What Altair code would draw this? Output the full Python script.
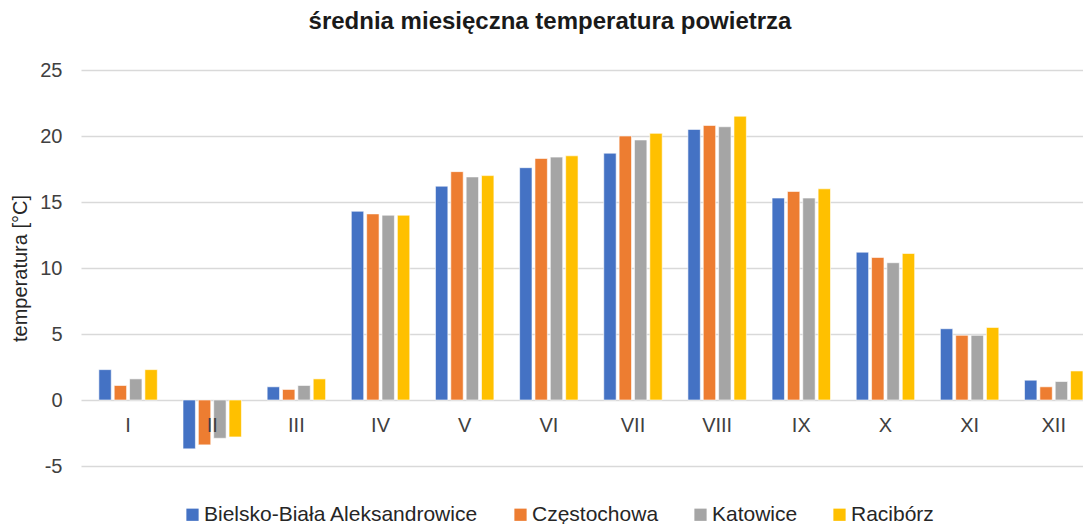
import altair as alt
import pandas as pd

months = ["I", "II", "III", "IV", "V", "VI", "VII", "VIII", "IX", "X", "XI", "XII"]
stations = ["Bielsko-Biała Aleksandrowice", "Częstochowa", "Katowice", "Racibórz"]
bielsko = [2.3, -3.7, 1.0, 14.3, 16.2, 17.6, 18.7, 20.5, 15.3, 11.2, 5.4, 1.5]
czestochowa = [1.1, -3.4, 0.8, 14.1, 17.3, 18.3, 20.0, 20.8, 15.8, 10.8, 4.9, 1.0]
katowice = [1.6, -2.9, 1.1, 14.0, 16.9, 18.4, 19.7, 20.7, 15.3, 10.4, 4.9, 1.4]
raciborz = [2.3, -2.8, 1.6, 14.0, 17.0, 18.5, 20.2, 21.5, 16.0, 11.1, 5.5, 2.2]
colors = ["#4472C4", "#ED7D31", "#A5A5A5", "#FFC000"]
y_ticks = [-5, 0, 5, 10, 15, 20, 25]

series = [bielsko, czestochowa, katowice, raciborz]
rows = []
for si, (name, vals) in enumerate(zip(stations, series)):
    for mi, (m, v) in enumerate(zip(months, vals)):
        rows.append({"month": m, "mi": mi + 1, "station": name, "si": si, "value": v})
df = pd.DataFrame(rows)
mdf = pd.DataFrame({"month": months, "mi": list(range(1, len(months) + 1))})

FONT = "Liberation Sans"
PLOT_W = 1002
PLOT_H = 396
x_scale = alt.Scale(domain=[0.5, 0.5 + PLOT_W / 85.0], nice=False, zero=False)
y_scale = alt.Scale(domain=[-5, 25], nice=False)

bars = alt.Chart(df).transform_calculate(
    xpos="datum.mi + (datum.si - 1.5) * 0.1824"
).mark_bar(size=12.4, clip=True, orient="vertical", stroke="white", strokeWidth=0.6).encode(
    x=alt.X("xpos:Q", scale=x_scale, axis=None),
    y=alt.Y("value:Q", scale=y_scale, stack=None,
            axis=alt.Axis(values=y_ticks, title="temperatura [°C]", ticks=False, domain=False,
                          labelExpr="'' + datum.value",
                          labelFontSize=20, labelColor="#404040", labelPadding=19, labelFont=FONT,
                          grid=True, gridColor="#d9d9d9", gridWidth=1.3,
                          titleFontSize=20, titleFontWeight="normal", titleColor="#262626",
                          titleFont=FONT, titlePadding=9)),
    y2=alt.datum(0),
    color=alt.Color("station:N", scale=alt.Scale(domain=stations, range=colors),
                    legend=alt.Legend(orient="none", legendX=101, legendY=434, direction="horizontal",
                                      title=None, symbolType="square", symbolSize=150,
                                      symbolStrokeWidth=0, labelFontSize=21, labelFont=FONT,
                                      labelColor="#262626", labelLimit=500, labelOffset=1,
                                      columnPadding=31)),
)

labels = alt.Chart(mdf).mark_text(dy=26, fontSize=20, font=FONT, color="#404040").encode(
    x=alt.X("mi:Q", scale=x_scale, axis=None),
    y=alt.datum(0),
    text="month:N",
)

chart = alt.layer(bars, labels).properties(
    width=PLOT_W,
    height=PLOT_H,
    title=alt.TitleParams("średnia miesięczna temperatura powietrza", fontSize=24, fontWeight="bold",
                          font=FONT, color="#1a1a1a", anchor="middle", dx=-32, offset=26),
    autosize=alt.AutoSizeParams(type="none"),
    padding={"left": 73, "top": 62, "right": 0, "bottom": 58},
).configure_view(stroke=None)

chart.save("out.html", embed_options={"renderer": "svg", "actions": False})
